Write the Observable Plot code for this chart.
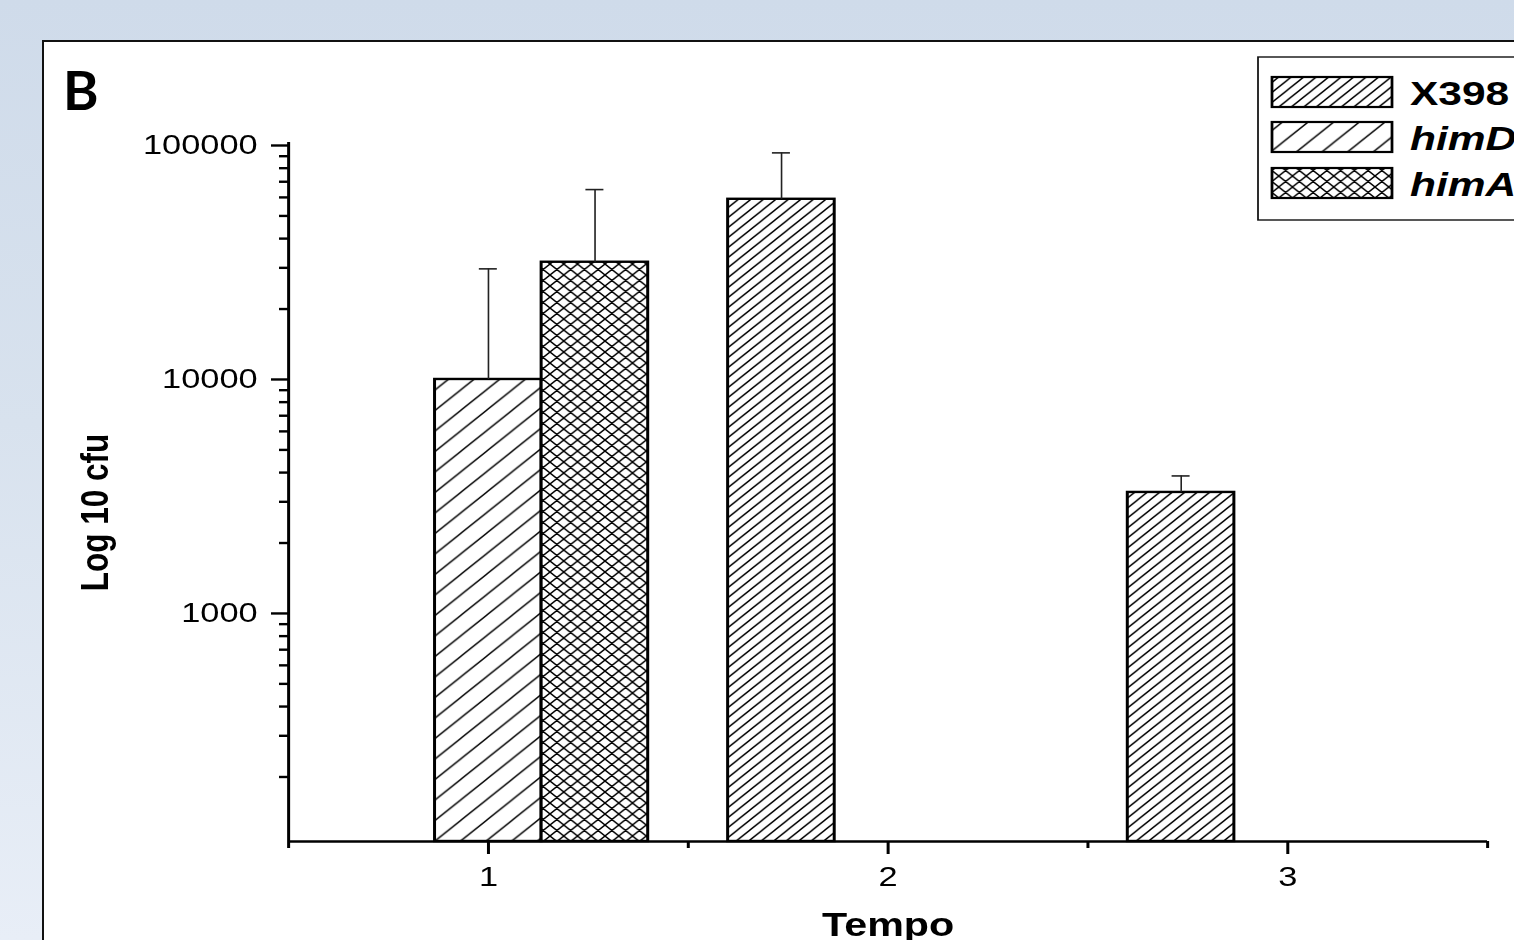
<!DOCTYPE html>
<html><head><meta charset="utf-8">
<script src="https://cdn.jsdelivr.net/npm/d3@7"></script>
<script src="https://cdn.jsdelivr.net/npm/@observablehq/plot@0.6"></script>
<style>
html,body{margin:0;padding:0;width:1514px;height:940px;overflow:hidden;}
body{position:relative;background:linear-gradient(180deg,#cfdbea 0%,#d8e2ee 45%,#e8eef7 100%);font-family:"Liberation Sans",Arial,sans-serif;}
#panel{position:absolute;left:42px;top:40px;width:1600px;height:1000px;background:#fff;border-left:2px solid #111;border-top:2px solid #111;}
#fig{position:absolute;left:0;top:0;width:1320px;height:940px;transform:scaleX(1.25);transform-origin:0 0;}
#fig svg{position:absolute;left:0;top:0;}
#overlay{position:absolute;left:0;top:0;}
</style></head><body>
<div id="panel"></div>
<div id="fig"></div>
<svg id="overlay" width="1514" height="940" xmlns="http://www.w3.org/2000/svg"></svg>
<script>
// ---- data ----
const tempo = [1, 2, 3];
const series = ["X398", "himD", "himA"];
const legendLabels = ["X398", "himD", "himA"];
const X398Mean = [null, 58900, 3290];
const X398Upper = [null, 93000, 3870];
const himDMean = [10000, null, null];
const himDUpper = [29700, null, null];
const himAMean = [31700, null, null];
const himAUpper = [64800, null, null];
const yTicks = [1000, 10000, 100000];
const yTickLabels = ["1000", "10000", "100000"];
const yMinorTicks = [200, 300, 400, 500, 600, 700, 800, 900,
  2000, 3000, 4000, 5000, 6000, 7000, 8000, 9000,
  20000, 30000, 40000, 50000, 60000, 70000, 80000, 90000];
const yDomain = [106, 100000];
const xTicks = [1, 2, 3];
const xTickLabels = ["1", "2", "3"];
const xBoundaries = [0.5, 1.5, 2.5, 3.5];
const xLabel = "Tempo";
const yLabel = "Log 10 cfu";
const panelLetter = "B";

// ---- table ----
const means = {X398: X398Mean, himD: himDMean, himA: himAMean};
const uppers = {X398: X398Upper, himD: himDUpper, himA: himAUpper};
const rows = [];
series.forEach(s => tempo.forEach((t, i) => {
  if (means[s][i] != null) rows.push({tempo: t, series: s, value: means[s][i], upper: uppers[s][i]});
}));

// ---- hatch patterns ----
const patternSize = {X398: 10, himD: 20.5, himA: 11};
const patternCross = {X398: false, himD: false, himA: true};
function hatchPattern(id, s, cross) {
  let d = `M0,${s}L${s},0M${-s/2},${s/2}L${s/2},${-s/2}M${s/2},${1.5*s}L${1.5*s},${s/2}`;
  if (cross) d += `M0,0L${s},${s}M${-s/2},${s/2}L${s/2},${1.5*s}M${s/2},${-s/2}L${1.5*s},${s/2}`;
  return `<pattern id="${id}" patternUnits="userSpaceOnUse" width="${s}" height="${s}">` +
    `<rect width="${s}" height="${s}" fill="#fff"/><path d="${d}" stroke="#000" stroke-width="1.3" fill="none"/></pattern>`;
}

// ---- sub-band offsets within each Tempo ----
const sub = Plot.scale({x: {type: "band", domain: series, range: [-0.4, 0.4], padding: 0}});
const x1 = d => d.tempo + sub.apply(d.series);
const x2 = d => x1(d) + sub.bandwidth;
const xc = d => x1(d) + sub.bandwidth / 2;

const chart = Plot.plot({
  width: 1320, height: 940,
  marginLeft: 230.4, marginRight: 130.4, marginTop: 145, marginBottom: 99,
  style: {background: "transparent", maxWidth: "none", overflow: "visible", fontFamily: "'Liberation Sans', Arial, sans-serif", color: "#000"},
  x: {domain: [0.5, 3.5]},
  y: {type: "log", domain: yDomain},
  color: {type: "ordinal", domain: series, range: series.map(s => `url(#pat-${s})`)},
  marks: [
    Plot.rectY(rows, {x1, x2, y1: yDomain[0], y2: "value", fill: "series", stroke: "#000", strokeWidth: 2.4}),
    Plot.ruleX(rows, {x: xc, y1: "value", y2: "upper", stroke: "#222", strokeWidth: 1.3}),
    Plot.ruleY(rows, {y: "upper", x1: xc, x2: xc, insetLeft: -7.2, insetRight: -7.2, stroke: "#222", strokeWidth: 1.6}),
    Plot.ruleX([xBoundaries[0]], {stroke: "#000", strokeWidth: 2.4, insetTop: -3}),
    Plot.ruleY([yDomain[0]], {stroke: "#000", strokeWidth: 2.4}),
    Plot.axisY({ticks: yTicks, tickFormat: d => yTickLabels[yTicks.indexOf(d)], tickSize: 13.6, tickPadding: 11.2, fontSize: 27.5, strokeWidth: 2.4, label: null}),
    Plot.axisY({ticks: yMinorTicks, tickFormat: () => "", tickSize: 7.2, strokeWidth: 2.4, label: null}),
    Plot.axisX({ticks: xTicks, tickFormat: d => xTickLabels[xTicks.indexOf(d)], tickSize: 13, tickPadding: 12, fontSize: 27.5, strokeWidth: 2.4, label: null}),
    Plot.axisX({ticks: xBoundaries, tickFormat: () => "", tickSize: 7, strokeWidth: 2.4, label: null}),
    Plot.text([yLabel], {text: d => d, frameAnchor: "left", textAnchor: "middle", rotate: -90, dx: 76 - 230.4, dy: 19, fontSize: 31.5, fontWeight: "bold"}),
    Plot.text([xLabel], {text: d => d, frameAnchor: "bottom", lineAnchor: "top", dy: 71, fontSize: 33, fontWeight: "bold"})
  ]
});
const svgNS = "http://www.w3.org/2000/svg";
const defs = document.createElementNS(svgNS, "defs");
defs.innerHTML = series.map(s => hatchPattern(`pat-${s}`, patternSize[s], patternCross[s])).join("");
chart.insertBefore(defs, chart.firstChild);
const fig = document.getElementById("fig");
fig.appendChild(chart);

// ---- legend (same stretched figure space) ----
const lg = d3.select(fig).append("svg").attr("width", 1320).attr("height", 940)
  .style("position", "absolute").style("left", "0px").style("top", "0px").style("overflow", "visible");
lg.append("rect").attr("x", 1006.4).attr("y", 57).attr("width", 400).attr("height", 163)
  .attr("fill", "#fff").attr("stroke", "#111").attr("stroke-width", 1.4);
const rowY = [77, 122, 168];
series.forEach((s, i) => {
  lg.append("rect").attr("x", 1017.6).attr("y", rowY[i]).attr("width", 96).attr("height", 30)
    .attr("fill", `url(#pat-${s})`).attr("stroke", "#000").attr("stroke-width", 2.2);
  lg.append("text").attr("x", 1128).attr("y", rowY[i] + 28)
    .attr("font-family", "'Liberation Sans', Arial, sans-serif").attr("font-weight", "bold")
    .attr("font-style", i === 0 ? "normal" : "italic").attr("font-size", 34).attr("fill", "#000")
    .text(legendLabels[i]);
});

// ---- panel letter ----
d3.select("#overlay").append("text").attr("x", 63).attr("y", 110).attr("font-family", "Lato, 'Open Sans', sans-serif")
  .attr("font-weight", "bold").attr("font-size", 54).attr("fill", "#000").text(panelLetter);
</script></body></html>
